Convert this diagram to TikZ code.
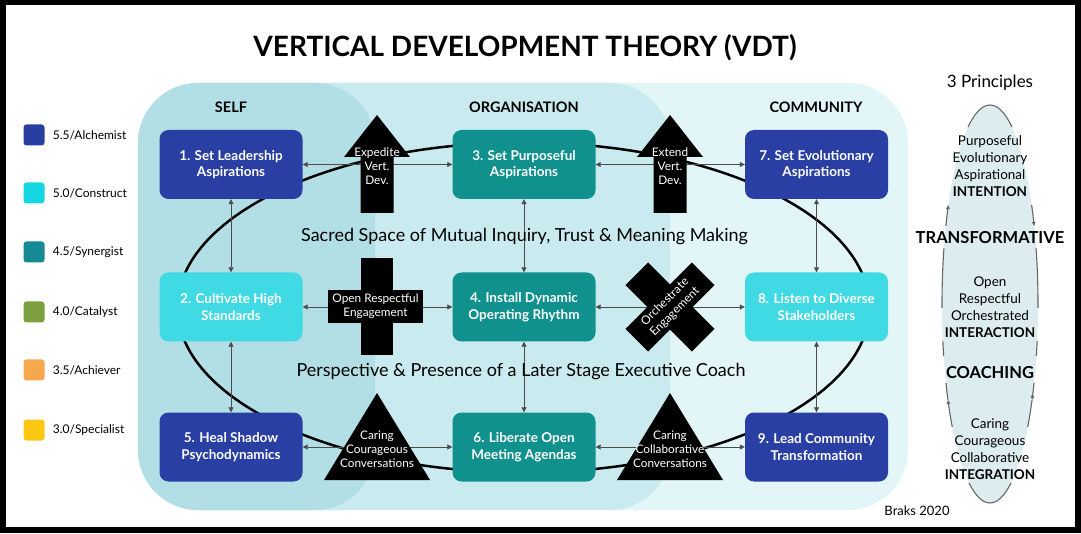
\documentclass[tikz,border=0pt]{standalone}
\usepackage{fontspec}
\setmainfont{Lato}
\usetikzlibrary{arrows.meta,positioning}

\definecolor{alchemist}{HTML}{2A3FA3}
\definecolor{construct}{HTML}{3FDAE4}
\definecolor{synergist}{HTML}{10918D}
\definecolor{legAlch}{HTML}{283EA0}
\definecolor{legCons}{HTML}{16D6E2}
\definecolor{legSyn}{HTML}{168A94}
\definecolor{legCat}{HTML}{7DA03E}
\definecolor{legAch}{HTML}{F5A84E}
\definecolor{legSpec}{HTML}{FCC814}
\definecolor{selfbg}{HTML}{B2DFE5}
\definecolor{orgbg}{HTML}{C9EAEE}
\definecolor{commbg}{HTML}{E2F6F8}
\definecolor{princbg}{HTML}{DCECEF}

\tikzset{
  stepbox/.style={rounded corners=9pt, minimum width=143pt, minimum height=69pt,
    text=white, align=center, inner sep=2pt,
    font=\fontsize{13.5}{16.5}\selectfont\bfseries},
  link/.style={{Triangle[length=5pt,width=5pt]}-{Triangle[length=5pt,width=5pt]},
    draw=black!70, line width=0.8pt},
  symtext/.style={text=white, align=center, inner sep=0pt,
    font=\fontsize{11.8}{14}\selectfont},
  heading/.style={font=\fontsize{14.5}{17}\selectfont\bfseries},
  legendkey/.style={minimum size=21pt, rounded corners=3pt, inner sep=0pt},
  legendtext/.style={font=\fontsize{12}{14}\selectfont, anchor=west, inner sep=0pt},
  princ/.style={align=center, inner sep=0pt, font=\fontsize{13.5}{17}\selectfont},
  princhead/.style={inner sep=0pt, font=\fontsize{16.5}{19}\selectfont\bfseries},
  princline/.style={draw=black!60, line width=1.1pt},
  princtip/.style={princline, -{Triangle[length=4pt,width=3.5pt]}},
}

\begin{document}
\begin{tikzpicture}[x=1pt,y=1pt]
    % Frame %
    \fill[black] (0,0) rectangle (1081,533);
    \fill[white] (6,6) rectangle (1075,528);
    \node[font=\fontsize{28}{32}\selectfont\bfseries] (title) at (525,485) {VERTICAL DEVELOPMENT THEORY (VDT)};

    % Regions %
    \fill[commbg, rounded corners=60pt] (138,23) rectangle (908,450);
    \fill[orgbg, rounded corners=60pt] (138,23) rectangle (670,450);
    \fill[selfbg, rounded corners=60pt] (138,23) rectangle (375,450);
    \node[heading] (self) at (231,426) {SELF};
    \node[heading] (org) at (524,426) {ORGANISATION};
    \node[heading] (comm) at (816,426) {COMMUNITY};

    % Legend %
    \foreach \c/\t/\y [count=\i] in {legAlch/{5.5/Alchemist}/398, legCons/{5.0/Construct}/340,
        legSyn/{4.5/Synergist}/281, legCat/{4.0/Catalyst}/221, legAch/{3.5/Achiever}/163,
        legSpec/{3.0/Specialist}/103}{
        \node[legendkey, fill=\c] (key\i) at (34,\y) {};
        \node[legendtext, right=8pt of key\i] (lab\i) {\t};
    }

    % Loop behind the steps %
    \draw[line width=2.5pt] (523.5,225.5) ellipse [x radius=346, y radius=165];

    % Steps %
    \node[stepbox, fill=alchemist] (s1) at (231,368.5) {1. Set Leadership\\Aspirations};
    \node[stepbox, fill=construct] (s2) at (231,226) {2. Cultivate High\\Standards};
    \node[stepbox, fill=alchemist] (s5) at (231,86) {5. Heal Shadow\\Psychodynamics};
    \node[stepbox, fill=synergist] (s3) at (524,368.5) {3. Set Purposeful\\Aspirations};
    \node[stepbox, fill=synergist] (s4) at (524,226) {4. Install Dynamic\\Operating Rhythm};
    \node[stepbox, fill=synergist] (s6) at (524,86) {6. Liberate Open\\Meeting Agendas};
    \node[stepbox, fill=alchemist] (s7) at (816.5,368.5) {7. Set Evolutionary\\Aspirations};
    \node[stepbox, fill=construct] (s8) at (816.5,226) {8. Listen to Diverse\\Stakeholders};
    \node[stepbox, fill=alchemist] (s9) at (816.5,86) {9. Lead Community\\Transformation};

    \draw[link] (s1) -- (s3);
    \draw[link] (s3) -- (s7);
    \draw[link] (s2) -- (s4);
    \draw[link] (s4) -- (s8);
    \draw[link] (s5) -- (s6);
    \draw[link] (s6) -- (s9);
    \draw[link] (s1) -- (s2);
    \draw[link] (s2) -- (s5);
    \draw[link] (s3) -- (s4);
    \draw[link] (s4) -- (s6);
    \draw[link] (s7) -- (s8);
    \draw[link] (s8) -- (s9);

    % Symbols %
    \foreach \x in {377,670}
        \fill (\x,418) -- ++(33,-42) -- ++(-16.5,0) -- ++(0,-56) -- ++(-33,0) -- ++(0,56) -- ++(-16.5,0) -- cycle;
    \node[symtext] (expedite) at (377,367) {Expedite\\Vert.\\Dev.};
    \node[symtext] (extend) at (670,367) {Extend\\Vert.\\Dev.};

    \fill (361,178) rectangle (393,275);
    \fill (328,210) rectangle (423,243);
    \node[symtext] (openresp) at (375.5,226.5) {Open Respectful\\Engagement};

    \fill[rotate around={45:(670,226)}] (623,210) rectangle (717,242);
    \fill[rotate around={-45:(670,226)}] (623,210) rectangle (717,242);
    \node[symtext, rotate=45] (orch) at (670,226) {Orchestrate\\Engagement};

    \fill (324,53) -- (430,53) -- (377,140) -- cycle;
    \fill (617,53) -- (723,53) -- (670,140) -- cycle;
    \node[symtext] (courageous) at (377,84) {Caring\\Courageous\\Conversations};
    \node[symtext] (collab) at (670,84) {Caring\\Collaborative\\Conversations};

    \node[font=\fontsize{18}{21}\selectfont] (sacred) at (524.5,296) {Sacred Space of Mutual Inquiry, Trust \& Meaning Making};
    \node[font=\fontsize{18}{21}\selectfont] (persp) at (521,161) {Perspective \& Presence of a Later Stage Executive Coach};

    \node[font=\fontsize{13}{15}\selectfont] (braks) at (917,22) {Braks 2020};

    % 3 Principles %
    \node[font=\fontsize{17}{20}\selectfont] (principles) at (990,450) {3 Principles};
    \fill[princbg] (990,229) ellipse [x radius=48, y radius=199];
    \draw[princline] (990,229) ++(62.8:48 and 199) arc[start angle=62.8, end angle=117.2, x radius=48, y radius=199];
    \draw[princtip] (990,229) ++(156.9:48 and 199) arc[start angle=156.9, end angle=150.2, x radius=48, y radius=199];
    \draw[princtip] (990,229) ++(29.8:48 and 199) arc[start angle=29.8, end angle=23.1, x radius=48, y radius=199];
    \draw[princline] (990,229) ++(163.7:48 and 199) arc[start angle=163.7, end angle=181.2, x radius=48, y radius=199];
    \draw[princline] (990,229) ++(16.3:48 and 199) arc[start angle=16.3, end angle=-1.2, x radius=48, y radius=199];
    \draw[princline] (990,229) ++(190.7:48 and 199) arc[start angle=190.7, end angle=195.1, x radius=48, y radius=199];
    \draw[princline] (990,229) ++(-10.7:48 and 199) arc[start angle=-10.7, end angle=-15.1, x radius=48, y radius=199];
    \draw[princtip] (990,229) ++(218.2:48 and 199) arc[start angle=218.2, end angle=208.8, x radius=48, y radius=199];
    \draw[princline] (990,229) ++(208.8:48 and 199) arc[start angle=208.8, end angle=203.4, x radius=48, y radius=199];
    \draw[princtip] (990,229) ++(-23.4:48 and 199) arc[start angle=-23.4, end angle=-28.8, x radius=48, y radius=199];
    \draw[princline] (990,229) ++(-28.8:48 and 199) arc[start angle=-28.8, end angle=-38.2, x radius=48, y radius=199];
    \draw[princline] (990,229) ++(-64.1:48 and 199) arc[start angle=-64.1, end angle=-115.9, x radius=48, y radius=199];

    \node[princ] (intention) at (990,366.5) {Purposeful\\Evolutionary\\Aspirational\\\textbf{INTENTION}};
    \node[princhead] (transf) at (990,295) {TRANSFORMATIVE};
    \node[princ] (interaction) at (990,225.5) {Open\\Respectful\\Orchestrated\\\textbf{INTERACTION}};
    \node[princhead] (coaching) at (990,160) {COACHING};
    \node[princ] (integration) at (990,84) {Caring\\Courageous\\Collaborative\\\textbf{INTEGRATION}};
\end{tikzpicture}
\end{document}
